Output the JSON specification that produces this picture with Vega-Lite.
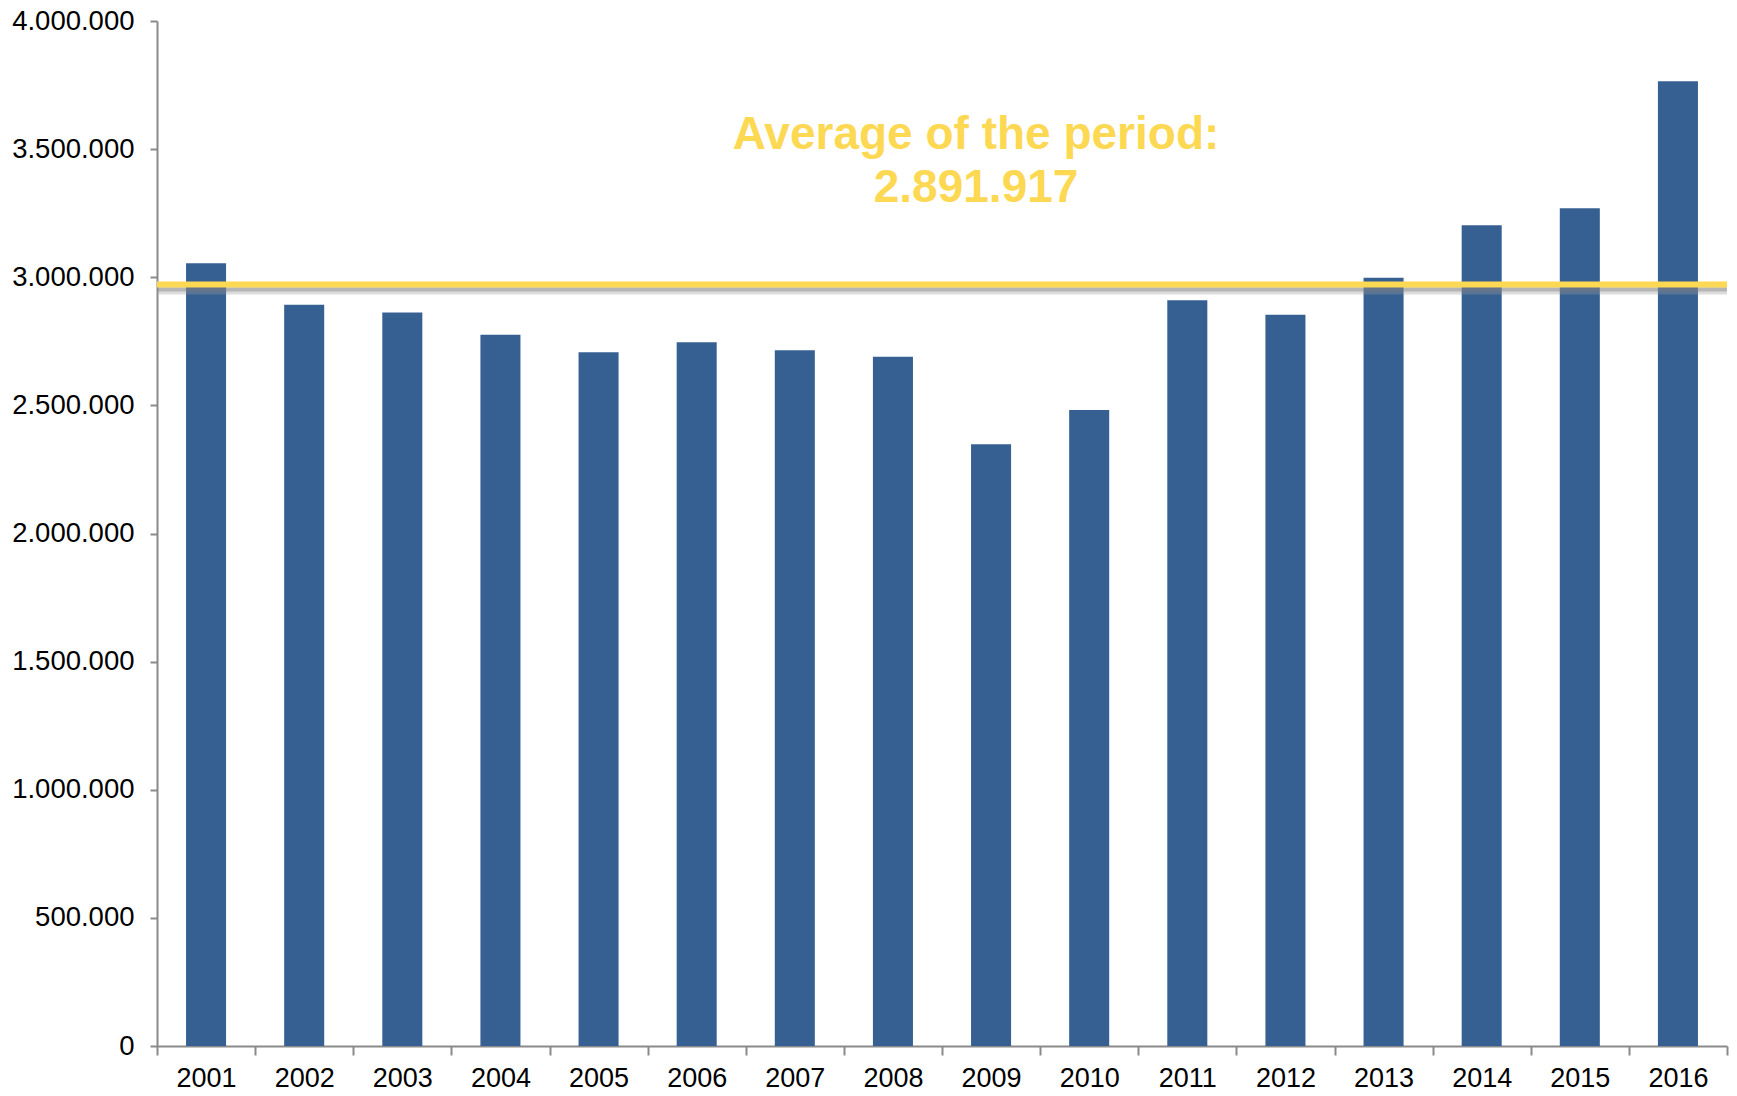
{
  "$schema": "https://vega.github.io/schema/vega-lite/v6.json",
  "width": 1570,
  "height": 1025,
  "autosize": {"type": "none"},
  "padding": {"left": 157, "top": 21, "right": 10, "bottom": 50},
  "background": "white",
  "config": {
    "view": {"stroke": null},
    "locale": {"number": {"decimal": ",", "thousands": ".", "grouping": [3], "currency": ["", " €"]}},
    "axis": {"labelFont": "Liberation Sans", "labelColor": "#000000", "domainColor": "#8a8a8a", "tickColor": "#8a8a8a", "domainWidth": 2, "tickWidth": 2, "grid": false, "title": null},
    "axisBand": {"tickBand": "extent"}
  },
  "layer": [
    {
      "data": {
        "values": [
          {"year": "2001", "value": 3055000},
          {"year": "2002", "value": 2893000},
          {"year": "2003", "value": 2862000},
          {"year": "2004", "value": 2776000},
          {"year": "2005", "value": 2707000},
          {"year": "2006", "value": 2746000},
          {"year": "2007", "value": 2715000},
          {"year": "2008", "value": 2690000},
          {"year": "2009", "value": 2348000},
          {"year": "2010", "value": 2482000},
          {"year": "2011", "value": 2910000},
          {"year": "2012", "value": 2854000},
          {"year": "2013", "value": 2998000},
          {"year": "2014", "value": 3203000},
          {"year": "2015", "value": 3269000},
          {"year": "2016", "value": 3765000}
        ]
      },
      "mark": {"type": "bar", "color": "#366092", "width": {"band": 0.408}},
      "encoding": {
        "x": {
          "field": "year", "type": "ordinal",
          "scale": {"paddingInner": 0, "paddingOuter": 0},
          "axis": {"labelAngle": 0, "labelFontSize": 27, "tickBand": "extent", "tickSize": 9, "labelPadding": 10}
        },
        "y": {
          "field": "value", "type": "quantitative",
          "scale": {"domain": [0, 4000000], "nice": false},
          "axis": {"values": [0, 500000, 1000000, 1500000, 2000000, 2500000, 3000000, 3500000, 4000000], "format": ",d", "labelFontSize": 27.5, "tickSize": 7, "labelPadding": 16}
        }
      }
    },
    {
      "data": {"values": [{"average": 2972000}]},
      "layer": [
        {
          "mark": {"type": "rule", "stroke": "#9a9a9a", "strokeOpacity": 0.35, "strokeWidth": 10, "yOffset": 5},
          "encoding": {"y": {"field": "average", "type": "quantitative"}}
        },
        {
          "mark": {"type": "rule", "stroke": "#7a7a7a", "strokeOpacity": 0.4, "strokeWidth": 4, "yOffset": 5},
          "encoding": {"y": {"field": "average", "type": "quantitative"}}
        },
        {
          "mark": {"type": "rule", "stroke": "#FDD853", "strokeWidth": 6},
          "encoding": {"y": {"field": "average", "type": "quantitative"}}
        }
      ]
    },
    {
      "data": {"values": [{}]},
      "layer": [
        {
          "mark": {"type": "text", "font": "Liberation Sans", "fontWeight": "bold", "fontSize": 46, "color": "#FDD853", "align": "center", "baseline": "alphabetic", "dx": -15},
          "encoding": {"x": {"datum": "2009"}, "y": {"datum": 3502000}, "text": {"value": "Average of the period:"}}
        },
        {
          "mark": {"type": "text", "font": "Liberation Sans", "fontWeight": "bold", "fontSize": 46, "color": "#FDD853", "align": "center", "baseline": "alphabetic", "dx": -15},
          "encoding": {"x": {"datum": "2009"}, "y": {"datum": 3292000}, "text": {"value": "2.891.917"}}
        }
      ]
    }
  ]
}
